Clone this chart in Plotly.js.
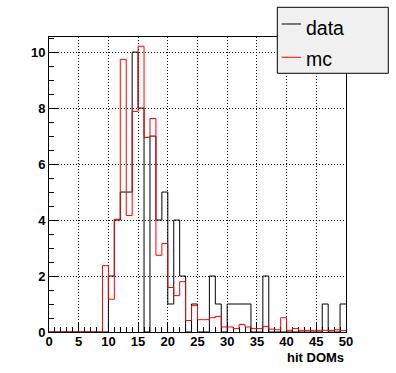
<!DOCTYPE html>
<html><head><meta charset="utf-8">
<script src="https://cdn.plot.ly/plotly-3.0.1.min.js"></script>
<style>html,body{margin:0;padding:0;background:#fff}#chart{width:396px;height:373px}</style>
</head><body><div id="chart"></div>
<script>
// bin lower edges (width 1)
const binLow = [0,1,2,3,4,5,6,7,8,9,10,11,12,13,14,15,16,17,18,19,20,21,22,23,24,25,26,27,28,29,30,31,32,33,34,35,36,37,38,39,40,41,42,43,44,45,46,47,48,49];
const dataCounts = [0,0,0,0,0,0,0,0,0,0, 2,4,5,5,10,8,0,7,4,5, 1,4,2,0,1,0,0,2,1,0, 1,1,1,1,0,0,2,0,0,0, 0,0,0,0,0,0,1,0,0,1];
const mcCounts = [0,0,0,0,0,0,0,0,0,2.37, 1.17,4.03,9.74,4.16,7.88,10.21,6.95,7.63,2.74,3.16, 1.59,1.3,1.8,0.41,0.94,0.44,0.44,0.51,0.56,0.18, 0.18,0.12,0.27,0.18,0.12,0.12,0.2,0.1,0.08,0.51, 0.06,0.12,0.06,0.06,0.06,0.06,0.06,0.06,0.08,0.05];
const seriesNames = ['data', 'mc'];
const seriesColors = ['#000000', '#ff0000'];
const xTitle = 'hit DOMs';

function stepXY(low, vals) {
  const w = low[1] - low[0];
  const x = low.slice(); x.push(low[low.length - 1] + w);
  const y = vals.slice(); y.push(vals[vals.length - 1]);
  return {x, y};
}
const d = stepXY(binLow, dataCounts);
const m = stepXY(binLow, mcCounts);

const traces = [
  {type:'scatter', mode:'lines', x:d.x, y:d.y, name:seriesNames[0], line:{shape:'hv', color:seriesColors[0], width:1}, hoverinfo:'skip'},
  {type:'scatter', mode:'lines', x:m.x, y:m.y, name:seriesNames[1], line:{shape:'hv', color:seriesColors[1], width:1}, hoverinfo:'skip'}
];

const tf = {family:'"Liberation Sans", Arial, sans-serif', size:13, color:'#000', weight:'bold'};
const lf = {family:'"Liberation Sans", Arial, sans-serif', size:19.5, color:'#000'};
const axBase = {
  ticks:'inside', tickwidth:1, tickcolor:'#000', showline:true, linecolor:'#000', linewidth:1, mirror:true,
  showgrid:true, gridcolor:'#000', gridwidth:1, griddash:'1px,2px', zeroline:false, tickfont:tf,
  layer:'below traces', fixedrange:true
};
const layout = {
  width:396, height:373, margin:{l:49, r:50, t:37, b:41},
  paper_bgcolor:'#fff', plot_bgcolor:'#fff', showlegend:false,
  xaxis:Object.assign({}, axBase, {range:[0,50], tick0:0, dtick:5, ticklen:9, ticklabelstandoff:-3,
    minor:{ticks:'inside', dtick:1, tick0:0, ticklen:5, tickcolor:'#000', showgrid:false}}),
  yaxis:Object.assign({}, axBase, {range:[0,10.54], tick0:0, dtick:2, ticklen:10,
    minor:{ticks:'inside', dtick:0.5, tick0:0, ticklen:5, tickcolor:'#000', showgrid:false}}),
  shapes:[
    {type:'rect', xref:'paper', yref:'paper', x0:0.7687, x1:1.1424, y0:0.877, y1:1.1007, fillcolor:'#f0f0f0', line:{color:'#000', width:1}, layer:'above'},
    {type:'line', xref:'paper', yref:'paper', x0:0.7835, x1:0.8485, y0:1.0441, y1:1.0441, line:{color:seriesColors[0], width:1}, layer:'above'},
    {type:'line', xref:'paper', yref:'paper', x0:0.7835, x1:0.8485, y0:0.9312, y1:0.9312, line:{color:seriesColors[1], width:1}, layer:'above'}
  ],
  annotations:[
    {xref:'paper', yref:'paper', x:0.8586, y:1.0322, xanchor:'left', yanchor:'middle', showarrow:false, text:seriesNames[0], font:lf},
    {xref:'paper', yref:'paper', x:0.8586, y:0.9254, xanchor:'left', yanchor:'middle', showarrow:false, text:seriesNames[1], font:lf},
    {xref:'paper', yref:'paper', x:1, y:-0.085, xanchor:'right', yanchor:'middle', showarrow:false, text:xTitle, font:tf}
  ]
};
Plotly.newPlot('chart', traces, layout, {staticPlot:true, displayModeBar:false});
</script>
</body></html>
